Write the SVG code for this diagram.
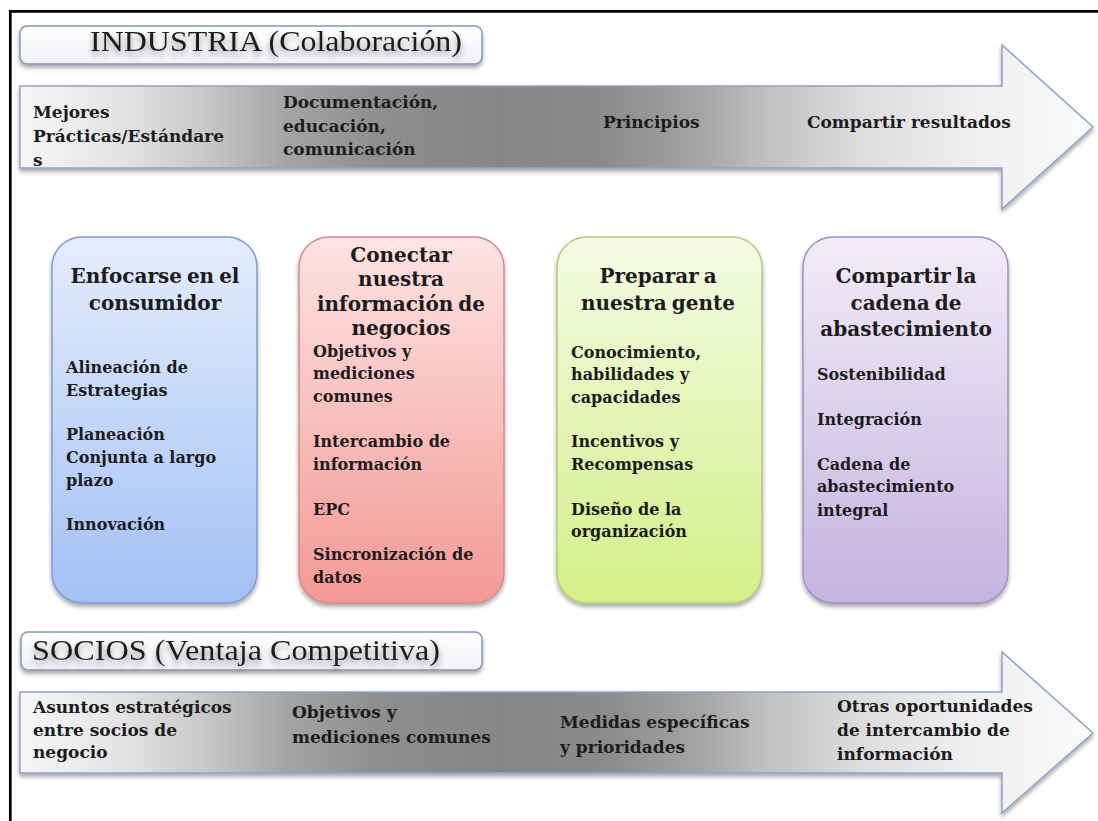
<svg xmlns="http://www.w3.org/2000/svg" width="1098" height="821" viewBox="0 0 1098 821">
  <style>
    .t { font-family: "DejaVu Serif", "Liberation Serif", serif; font-weight: bold; fill: #1c1c1c; }
    .title { font-size: 20px; text-anchor: middle; word-spacing: -2px; }
    .item { font-size: 16px; }
    .arr { font-size: 17px; }
    .hdr { font-family: "Liberation Serif", "DejaVu Serif", serif; font-weight: normal; font-size: 29px; fill: #1e1e1e; }
    .hdrbox { fill: url(#hdrFill); stroke: #8396bb; stroke-width: 1.5; }
    .band { fill: url(#bandFill); stroke: #8ea3c7; stroke-width: 1.5; }
    .card { stroke-width: 1.5; }
  </style>
  <defs>
    <linearGradient id="hdrFill" x1="0" y1="0" x2="0" y2="1">
      <stop offset="0" stop-color="#ffffff"/>
      <stop offset="1" stop-color="#eef1f6"/>
    </linearGradient>
    <linearGradient id="bandFill" gradientUnits="userSpaceOnUse" x1="20" y1="0" x2="1093" y2="0">
      <stop offset="0" stop-color="#f7f7f7"/>
      <stop offset="0.10" stop-color="#e2e2e2"/>
      <stop offset="0.17" stop-color="#c9c9c9"/>
      <stop offset="0.25" stop-color="#a4a4a4"/>
      <stop offset="0.33" stop-color="#8f8f8f"/>
      <stop offset="0.45" stop-color="#868686"/>
      <stop offset="0.55" stop-color="#8c8c8c"/>
      <stop offset="0.63" stop-color="#a3a3a3"/>
      <stop offset="0.70" stop-color="#c2c2c2"/>
      <stop offset="0.78" stop-color="#dcdcdc"/>
      <stop offset="0.88" stop-color="#eeeeee"/>
      <stop offset="1" stop-color="#fafbfd"/>
    </linearGradient>
    <linearGradient id="blueFill" x1="0" y1="0" x2="0" y2="1">
      <stop offset="0" stop-color="#e4edfc"/>
      <stop offset="1" stop-color="#a2c0f4"/>
    </linearGradient>
    <linearGradient id="redFill" x1="0" y1="0" x2="0" y2="1">
      <stop offset="0" stop-color="#fde4e2"/>
      <stop offset="1" stop-color="#f39995"/>
    </linearGradient>
    <linearGradient id="greenFill" x1="0" y1="0" x2="0" y2="1">
      <stop offset="0" stop-color="#f5fbe5"/>
      <stop offset="1" stop-color="#d3ef88"/>
    </linearGradient>
    <linearGradient id="purpleFill" x1="0" y1="0" x2="0" y2="1">
      <stop offset="0" stop-color="#f1ecf8"/>
      <stop offset="1" stop-color="#c4b3df"/>
    </linearGradient>
    <filter id="dropShadow" x="-5%" y="-10%" width="110%" height="130%">
      <feGaussianBlur in="SourceAlpha" stdDeviation="2"/>
      <feOffset dx="0" dy="3" result="off"/>
      <feComponentTransfer><feFuncA type="linear" slope="0.35"/></feComponentTransfer>
      <feMerge><feMergeNode/><feMergeNode in="SourceGraphic"/></feMerge>
    </filter>
    <filter id="textGlow" x="-5%" y="-30%" width="110%" height="180%">
      <feGaussianBlur in="SourceAlpha" stdDeviation="3"/>
      <feOffset dx="0" dy="4" result="off"/>
      <feComponentTransfer><feFuncA type="linear" slope="0.4"/></feComponentTransfer>
      <feMerge><feMergeNode/><feMergeNode in="SourceGraphic"/></feMerge>
    </filter>
  </defs>

  <rect width="1098" height="821" fill="#ffffff"/>

  <!-- page frame: top and left rules -->
  <g id="frame">
    <path d="M10.3,821 V11.3 H1098" fill="none" stroke="#000000" stroke-width="2.7"/>
  </g>

  <!-- industry level heading -->
  <g id="industria-header">
    <rect class="hdrbox" x="20" y="26" width="462" height="38" rx="7" filter="url(#dropShadow)"/>
    <text class="hdr" x="90" y="51" textLength="372" lengthAdjust="spacingAndGlyphs" filter="url(#textGlow)">INDUSTRIA (Colaboración)</text>
  </g>

  <!-- industry band arrow -->
  <g id="industria-arrow">
    <polygon class="band" points="20,86 1002,86 1002,45 1093,127 1002,209 1002,168 20,168" filter="url(#dropShadow)"/>
    <text class="t arr" x="33" y="118">Mejores</text>
    <text class="t arr" x="33" y="142">Prácticas/Estándare</text>
    <text class="t arr" x="33" y="166">s</text>
    <text class="t arr" x="283" y="108">Documentación,</text>
    <text class="t arr" x="283" y="132">educación,</text>
    <text class="t arr" x="283" y="155">comunicación</text>
    <text class="t arr" x="603" y="128">Principios</text>
    <text class="t arr" x="807" y="128">Compartir resultados</text>
  </g>

  <!-- focus cards -->
  <g id="consumidor">
    <rect class="card" x="52" y="237" width="205" height="366" rx="30" fill="url(#blueFill)" stroke="#7f9bcf" filter="url(#dropShadow)"/>
    <text class="t title" x="155" y="283">Enfocarse en el</text>
    <text class="t title" x="155" y="310">consumidor</text>
    <text class="t item" x="66" y="373">Alineación de</text>
    <text class="t item" x="66" y="396">Estrategias</text>
    <text class="t item" x="66" y="440">Planeación</text>
    <text class="t item" x="66" y="463">Conjunta a largo</text>
    <text class="t item" x="66" y="486">plazo</text>
    <text class="t item" x="66" y="530">Innovación</text>
  </g>

  <g id="informacion">
    <rect class="card" x="299" y="237" width="205" height="366" rx="30" fill="url(#redFill)" stroke="#d38a89" filter="url(#dropShadow)"/>
    <text class="t title" x="401" y="262">Conectar</text>
    <text class="t title" x="401" y="286">nuestra</text>
    <text class="t title" x="401" y="311">información de</text>
    <text class="t title" x="401" y="335">negocios</text>
    <text class="t item" x="313" y="357">Objetivos y</text>
    <text class="t item" x="313" y="379">mediciones</text>
    <text class="t item" x="313" y="402">comunes</text>
    <text class="t item" x="313" y="447">Intercambio de</text>
    <text class="t item" x="313" y="470">información</text>
    <text class="t item" x="313" y="515">EPC</text>
    <text class="t item" x="313" y="560">Sincronización de</text>
    <text class="t item" x="313" y="583">datos</text>
  </g>

  <g id="gente">
    <rect class="card" x="557" y="237" width="205" height="366" rx="30" fill="url(#greenFill)" stroke="#b3cc78" filter="url(#dropShadow)"/>
    <text class="t title" x="658" y="283">Preparar a</text>
    <text class="t title" x="658" y="310">nuestra gente</text>
    <text class="t item" x="571" y="358">Conocimiento,</text>
    <text class="t item" x="571" y="380">habilidades y</text>
    <text class="t item" x="571" y="403">capacidades</text>
    <text class="t item" x="571" y="447">Incentivos y</text>
    <text class="t item" x="571" y="470">Recompensas</text>
    <text class="t item" x="571" y="515">Diseño de la</text>
    <text class="t item" x="571" y="537">organización</text>
  </g>

  <g id="abastecimiento">
    <rect class="card" x="803" y="237" width="205" height="366" rx="30" fill="url(#purpleFill)" stroke="#a190c3" filter="url(#dropShadow)"/>
    <text class="t title" x="906" y="283">Compartir la</text>
    <text class="t title" x="906" y="310">cadena de</text>
    <text class="t title" x="906" y="336">abastecimiento</text>
    <text class="t item" x="817" y="380">Sostenibilidad</text>
    <text class="t item" x="817" y="425">Integración</text>
    <text class="t item" x="817" y="470">Cadena de</text>
    <text class="t item" x="817" y="492">abastecimiento</text>
    <text class="t item" x="817" y="516">integral</text>
  </g>

  <!-- partner level heading -->
  <g id="socios-header">
    <rect class="hdrbox" x="21" y="632" width="461" height="38" rx="7" filter="url(#dropShadow)"/>
    <text class="hdr" x="32" y="660" textLength="408" lengthAdjust="spacingAndGlyphs" filter="url(#textGlow)">SOCIOS (Ventaja Competitiva)</text>
  </g>

  <!-- partner band arrow -->
  <g id="socios-arrow">
    <polygon class="band" points="20,692 1002,692 1002,652 1093,733 1002,813 1002,773 20,773" filter="url(#dropShadow)"/>
    <text class="t arr" x="33" y="713">Asuntos estratégicos</text>
    <text class="t arr" x="33" y="736">entre socios de</text>
    <text class="t arr" x="33" y="758">negocio</text>
    <text class="t arr" x="292" y="718">Objetivos y</text>
    <text class="t arr" x="292" y="743">mediciones comunes</text>
    <text class="t arr" x="560" y="728">Medidas específicas</text>
    <text class="t arr" x="560" y="753">y prioridades</text>
    <text class="t arr" x="837" y="712">Otras oportunidades</text>
    <text class="t arr" x="837" y="736">de intercambio de</text>
    <text class="t arr" x="837" y="760">información</text>
  </g>
</svg>
